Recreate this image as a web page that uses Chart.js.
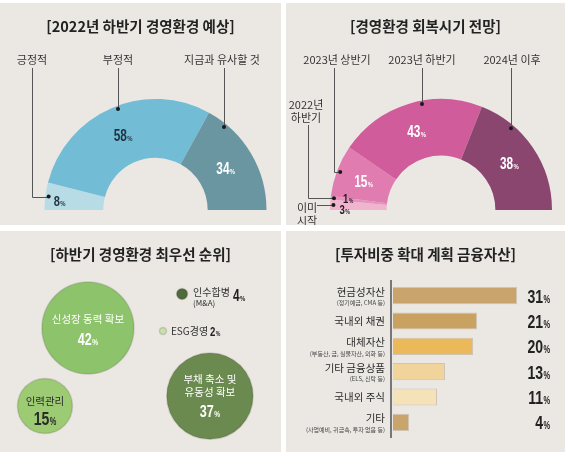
<!DOCTYPE html>
<html>
<head>
<meta charset="utf-8">
<script src="https://cdn.jsdelivr.net/npm/chart.js@4.4.1/dist/chart.umd.min.js"></script>
<style>
  body { margin: 0; background: #fff; width: 570px; height: 455px; position: relative; overflow: hidden; font-family: "Noto Sans CJK KR", sans-serif; }
  .panel { position: absolute; background: #ebe8e4; }
  .panel canvas { position: absolute; left: 0; top: 0; }
  .title { position: absolute; left: 0; right: 0; top: 13px; line-height: 20px; text-align: center; font-weight: 700; font-size: 14.5px; color: #222; }
</style>
</head>
<body>
<div class="panel" style="left:0;top:3px;width:281px;height:222px">
  <canvas id="outlook" width="281" height="222"></canvas>
  <div class="title">[2022년 하반기 경영환경 예상]</div>
</div>
<div class="panel" style="left:286px;top:3px;width:279px;height:222px">
  <canvas id="recovery" width="279" height="222"></canvas>
  <div class="title">[경영환경 회복시기 전망]</div>
</div>
<div class="panel" style="left:0;top:231px;width:281px;height:221px">
  <canvas id="priority" width="281" height="221"></canvas>
  <div class="title">[하반기 경영환경 최우선 순위]</div>
</div>
<div class="panel" style="left:286px;top:231px;width:279px;height:221px">
  <canvas id="assets" width="279" height="221"></canvas>
  <div class="title">[투자비중 확대 계획 금융자산]</div>
</div>
<script>
// data
const outlookLabels = ['긍정적', '부정적', '지금과 유사할 것']
const outlookValues = [8, 58, 34]

const recoveryLabels = ['이미 시작', '2022년 하반기', '2023년 상반기', '2023년 하반기', '2024년 이후']
const recoveryValues = [3, 1, 15, 43, 38]

const priorityLabels = ['신성장 동력 확보', '인력관리', '부채 축소 및 유동성 확보', '인수합병 (M&A)', 'ESG경영']
const priorityValues = [42, 15, 37, 4, 2]

const assetLabels = ['현금성자산', '국내외 채권', '대체자산', '기타 금융상품', '국내외 주식', '기타']
const assetNotes = ['(정기예금, CMA 등)', '', '(부동산, 금, 실물자산, 외화 등)', '(ELS, 신탁 등)', '', '(사업예비, 귀금속, 투자 없음 등)']
const assetValues = [31, 21, 20, 13, 11, 4]

const krFont = '"Noto Sans CJK KR", sans-serif'
const numFont = '"Liberation Sans", Arial, sans-serif'
const squeeze = 0.74

// number with a small % sign, squeezed to look condensed
function drawPct(ctx, v, x, y, size, color, align = 'center') {
  ctx.save()
  ctx.fillStyle = color
  ctx.textBaseline = 'alphabetic'
  ctx.textAlign = 'left'
  const big = `bold ${size}px ${numFont}`
  const small = `bold ${Math.round(size * 0.52)}px ${numFont}`
  ctx.font = big
  const w1 = ctx.measureText(String(v)).width
  ctx.font = small
  const w2 = ctx.measureText('%').width
  const total = (w1 + w2 + 0.5) * squeeze
  const left = align === 'center' ? x - total / 2 : align === 'right' ? x - total : x
  const base = y + size * 0.36
  ctx.translate(left, base)
  ctx.scale(squeeze, 1)
  ctx.font = big
  ctx.fillText(String(v), 0, 0)
  ctx.font = small
  ctx.fillText('%', w1 + 0.5, 0)
  ctx.restore()
}

function drawLines(ctx, lines, x, y, font, color, align = 'center', gap = 13) {
  ctx.save()
  ctx.font = font
  ctx.fillStyle = color
  ctx.textAlign = align
  ctx.textBaseline = 'middle'
  lines.forEach((t, k) => ctx.fillText(t, x, y + k * gap))
  ctx.restore()
}

// callouts with leader lines for the half doughnuts
const arcCallouts = (notes, values) => ({
  id: 'callouts',
  afterDatasetsDraw(chart) {
    const ctx = chart.ctx
    const arcs = chart.getDatasetMeta(0).data
    notes.forEach((n, i) => {
      const a = arcs[i].getProps(['x', 'y', 'outerRadius', 'innerRadius', 'startAngle', 'endAngle'], true)
      const mid = (a.startAngle + a.endAngle) / 2
      const rd = a.outerRadius * 0.97
      let dx, dy
      if (n.type === 'down') {
        dx = n.lx
        dy = a.y - Math.sqrt(rd * rd - (n.lx - a.x) ** 2)
      } else {
        dx = a.x + rd * Math.cos(mid)
        dy = a.y + rd * Math.sin(mid)
      }
      drawLines(ctx, n.text, n.tx, n.ty, `11px ${krFont}`, '#333')
      ctx.save()
      ctx.strokeStyle = '#555'
      ctx.lineWidth = 1
      ctx.beginPath()
      if (n.type === 'down') {
        ctx.moveTo(n.lx + 0.5, n.top)
        ctx.lineTo(dx + 0.5, dy)
      } else if (n.type === 'elbow') {
        ctx.moveTo(n.lx + 0.5, n.top)
        ctx.lineTo(n.lx + 0.5, Math.round(dy) + 0.5)
        ctx.lineTo(dx, Math.round(dy) + 0.5)
      } else {
        ctx.moveTo(n.lx, Math.round(dy) + 0.5)
        ctx.lineTo(dx, Math.round(dy) + 0.5)
      }
      ctx.stroke()
      ctx.fillStyle = '#1a1a1a'
      ctx.beginPath()
      ctx.arc(dx, dy, 2, 0, Math.PI * 2)
      ctx.fill()
      ctx.restore()
      if (n.pct === 'ring') {
        const rm = (a.outerRadius + a.innerRadius) / 2
        drawPct(ctx, values[i], a.x + rm * Math.cos(mid), a.y + rm * Math.sin(mid), 16, n.pctColor)
      } else {
        drawPct(ctx, values[i], dx + n.off[0], dy + n.off[1], n.pctSize, n.pctColor, 'left')
      }
    })
  }
})

function halfDoughnut(id, labels, values, colors, cutout, padLeft, notes) {
  return new Chart(document.getElementById(id), {
    type: 'doughnut',
    data: { labels, datasets: [{ data: values, backgroundColor: colors, borderWidth: 0 }] },
    options: {
      responsive: false,
      animation: false,
      events: [],
      rotation: -90,
      circumference: 180,
      radius: 111,
      cutout,
      layout: { padding: { left: padLeft, right: 0, top: 90, bottom: 9 } },
      plugins: { legend: { display: false }, tooltip: { enabled: false } }
    },
    plugins: [arcCallouts(notes, values)]
  })
}

halfDoughnut('outlook', outlookLabels, outlookValues,
  ['#b8dce6', '#72bcd6', '#6a96a2'], '47%', 30, [
    { type: 'elbow', text: ['긍정적'], tx: 32, ty: 57, lx: 32, top: 65, pct: 'dot', off: [5, 4], pctSize: 15, pctColor: '#1e3441' },
    { type: 'down', text: ['부정적'], tx: 118, ty: 57, lx: 118, top: 65, pct: 'ring', pctColor: '#1e3441' },
    { type: 'down', text: ['지금과 유사할 것'], tx: 222, ty: 57, lx: 224, top: 65, pct: 'ring', pctColor: '#fff' }
  ])

halfDoughnut('recovery', recoveryLabels, recoveryValues,
  ['#f1b4cf', '#e592bd', '#e07cb0', '#d05c9b', '#8b4670'], '49%', 31, [
    { type: 'side', text: ['이미', '시작'], tx: 21, ty: 205, lx: 31, pct: 'dot', off: [6, 4], pctSize: 13, pctColor: '#2a1a22' },
    { type: 'elbow', text: ['2022년', '하반기'], tx: 20, ty: 102, lx: 22, top: 122, pct: 'dot', off: [9, 0], pctSize: 13, pctColor: '#2a1a22' },
    { type: 'elbow', text: ['2023년 상반기'], tx: 51, ty: 57, lx: 48, top: 65, pct: 'ring', pctColor: '#fff' },
    { type: 'down', text: ['2023년 하반기'], tx: 136, ty: 57, lx: 136, top: 65, pct: 'ring', pctColor: '#fff' },
    { type: 'down', text: ['2024년 이후'], tx: 226, ty: 57, lx: 225, top: 65, pct: 'ring', pctColor: '#fff' }
  ])

// bubble layout (percent of panel, y from top)
const bubbleSpots = [[31.3, 43.9], [16, 79.2], [74.7, 74.7], [64.8, 28.5], [58, 45.2]]
const bubbleColors = ['#8dc46b', '#9ccb73', '#6b8a4f', '#4f6a3c', '#c9e0ad']
const bubbleRadius = v => v >= 10 ? 7.1 * Math.sqrt(v) : v + 1.5

const bubbleText = {
  id: 'bubbleText',
  afterDatasetsDraw(chart) {
    const ctx = chart.ctx
    const pts = chart.getDatasetMeta(0).data
    const [big, staff, debt, mna, esg] = pts
    drawLines(ctx, ['신성장 동력 확보'], big.x, big.y - 9, `10.5px ${krFont}`, '#fff')
    drawPct(ctx, priorityValues[0], big.x, big.y + 11, 17, '#fff')
    drawLines(ctx, ['인력관리'], staff.x, staff.y - 5, `10.5px ${krFont}`, '#2b2b2b')
    drawPct(ctx, priorityValues[1], staff.x, staff.y + 12, 19, '#2b2b2b')
    drawLines(ctx, ['부채 축소 및', '유동성 확보'], debt.x, debt.y - 17, `10.5px ${krFont}`, '#fff')
    drawPct(ctx, priorityValues[2], debt.x, debt.y + 15, 17, '#fff')
    drawLines(ctx, ['인수합병'], mna.x + 11, mna.y - 2, `10px ${krFont}`, '#333', 'left')
    drawLines(ctx, ['(M&A)'], mna.x + 11, mna.y + 9, `8px ${krFont}`, '#333', 'left')
    drawPct(ctx, priorityValues[3], mna.x + 51, mna.y + 1, 16, '#222', 'left')
    drawLines(ctx, ['ESG경영'], esg.x + 8, esg.y, `10px ${krFont}`, '#333', 'left')
    drawPct(ctx, priorityValues[4], esg.x + 47, esg.y, 13, '#222', 'left')
  }
}

new Chart(document.getElementById('priority'), {
  type: 'bubble',
  data: {
    labels: priorityLabels,
    datasets: [{
      data: priorityValues.map((v, i) => ({ x: bubbleSpots[i][0], y: bubbleSpots[i][1], r: bubbleRadius(v) })),
      backgroundColor: bubbleColors,
      borderColor: 'rgba(60,60,40,0.18)',
      borderWidth: 1.5,
      clip: false
    }]
  },
  options: {
    responsive: false,
    animation: false,
    events: [],
    layout: { padding: 0, autoPadding: false },
    scales: {
      x: { display: false, min: 0, max: 100 },
      y: { display: false, min: 0, max: 100, reverse: true }
    },
    plugins: { legend: { display: false }, tooltip: { enabled: false } }
  },
  plugins: [bubbleText]
})

const assetText = {
  id: 'assetText',
  afterDatasetsDraw(chart) {
    const { ctx, chartArea } = chart
    const bars = chart.getDatasetMeta(0).data
    ctx.save()
    ctx.strokeStyle = '#2b2b2b'
    ctx.lineWidth = 1.2
    ctx.beginPath()
    ctx.moveTo(chartArea.left - 2, chartArea.top - 3)
    ctx.lineTo(chartArea.left - 2, chartArea.bottom + 3)
    ctx.stroke()
    ctx.restore()
    bars.forEach((bar, i) => {
      const x = chartArea.left - 8
      if (assetNotes[i]) {
        drawLines(ctx, [assetLabels[i]], x, bar.y - 4, `10.5px ${krFont}`, '#2b2b2b', 'right')
        drawLines(ctx, [assetNotes[i]], x, bar.y + 7, `6px ${krFont}`, '#444', 'right')
      } else {
        drawLines(ctx, [assetLabels[i]], x, bar.y, `10.5px ${krFont}`, '#2b2b2b', 'right')
      }
      drawPct(ctx, assetValues[i], chart.width - 15, bar.y, 19, '#222', 'right')
    })
  }
}

new Chart(document.getElementById('assets'), {
  type: 'bar',
  data: {
    labels: assetLabels,
    datasets: [{
      data: assetValues,
      backgroundColor: ['#c9a46c', '#c9a262', '#ebb95a', '#f0d49c', '#f5e2b8', '#c9a46c'],
      borderColor: 'rgba(120,90,40,0.25)',
      borderWidth: 1,
      barPercentage: 0.675,
      categoryPercentage: 1
    }]
  },
  options: {
    indexAxis: 'y',
    responsive: false,
    animation: false,
    events: [],
    layout: { padding: { left: 107, right: 12, top: 52, bottom: 17 } },
    scales: {
      x: { display: false, min: 0, max: 40 },
      y: { display: false }
    },
    plugins: { legend: { display: false }, tooltip: { enabled: false } }
  },
  plugins: [assetText]
})
</script>
</body>
</html>
